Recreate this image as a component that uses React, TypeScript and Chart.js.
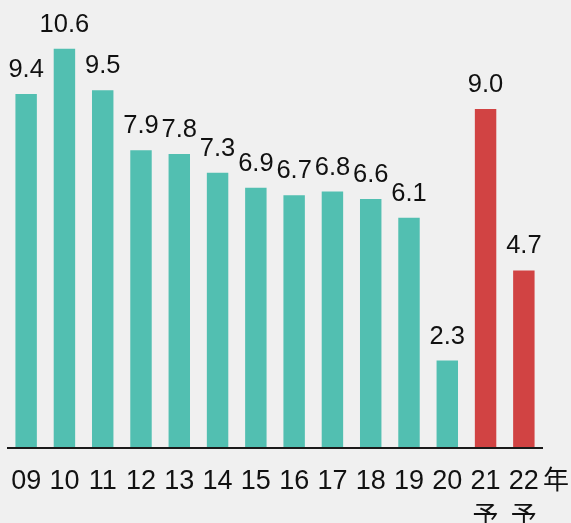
import React, { useEffect, useRef } from "react";
import { Chart, registerables } from "chart.js";

Chart.register(...registerables);

const categories = ["09", "10", "11", "12", "13", "14", "15", "16", "17", "18", "19", "20", "21", "22"];
const subLabels = ["", "", "", "", "", "", "", "", "", "", "", "", "予", "予"];
const values = [9.4, 10.6, 9.5, 7.9, 7.8, 7.3, 6.9, 6.7, 6.8, 6.6, 6.1, 2.3, 9.0, 4.7];
const valueLabels = ["9.4", "10.6", "9.5", "7.9", "7.8", "7.3", "6.9", "6.7", "6.8", "6.6", "6.1", "2.3", "9.0", "4.7"];
const forecast = [false, false, false, false, false, false, false, false, false, false, false, false, true, true];
const unitLabel = "年";

const TEAL = "#52bfb1";
const RED = "#d14343";
const BG = "#f0f0f0";
const LATIN = "'Liberation Sans', Arial, sans-serif";
const CJK = "'Noto Sans CJK JP', sans-serif";

const overlay = {
  id: "overlay",
  beforeDraw(chart: any) {
    const { ctx, width, height } = chart;
    ctx.save();
    ctx.fillStyle = BG;
    ctx.fillRect(0, 0, width, height);
    ctx.restore();
  },
  afterDatasetsDraw(chart: any) {
    const { ctx, chartArea } = chart;
    const x = chart.scales.x;
    const meta = chart.getDatasetMeta(0);
    ctx.save();
    ctx.strokeStyle = "#1a1a1a";
    ctx.lineWidth = 2;
    ctx.beginPath();
    ctx.moveTo(chartArea.left, chartArea.bottom + 1);
    ctx.lineTo(chartArea.right, chartArea.bottom + 1);
    ctx.stroke();

    ctx.fillStyle = "#111";
    ctx.textAlign = "center";
    ctx.textBaseline = "alphabetic";
    ctx.font = `25.5px ${LATIN}`;
    meta.data.forEach((bar: any, i: number) => {
      ctx.fillText(valueLabels[i], bar.x, bar.y - 17);
    });
    categories.forEach((c, i) => {
      const px = x.getPixelForValue(i);
      ctx.font = `27px ${LATIN}`;
      ctx.fillText(c, px, chartArea.bottom + 42);
      if (subLabels[i]) {
        ctx.font = `26px ${CJK}`;
        ctx.fillText(subLabels[i], px, chartArea.bottom + 78);
      }
    });
    ctx.font = `26px ${CJK}`;
    ctx.fillText(unitLabel, 556, chartArea.bottom + 42);
    ctx.restore();
  },
};

export default function App() {
  const ref = useRef<HTMLCanvasElement>(null);
  useEffect(() => {
    if (!ref.current) return;
    const chart = new Chart(ref.current, {
      type: "bar",
      data: {
        labels: categories,
        datasets: [
          {
            data: values,
            backgroundColor: forecast.map((f) => (f ? RED : TEAL)),
            borderWidth: 0,
            categoryPercentage: 1,
            barPercentage: 0.56,
          },
        ],
      },
      options: {
        animation: false,
        responsive: false,
        maintainAspectRatio: false,
        events: [],
        layout: { padding: { left: 7, right: 28, top: 15, bottom: 76 } },
        plugins: { legend: { display: false }, tooltip: { enabled: false } },
        scales: {
          x: { display: false },
          y: { display: false, min: 0, max: 11.5 },
        },
      },
      plugins: [overlay],
    });
    return () => chart.destroy();
  }, []);
  return (
    <div style={{ position: "absolute", left: 0, top: 0, width: 571, height: 523, background: BG }}>
      <canvas ref={ref} width={571} height={523} style={{ width: 571, height: 523 }} />
    </div>
  );
}
